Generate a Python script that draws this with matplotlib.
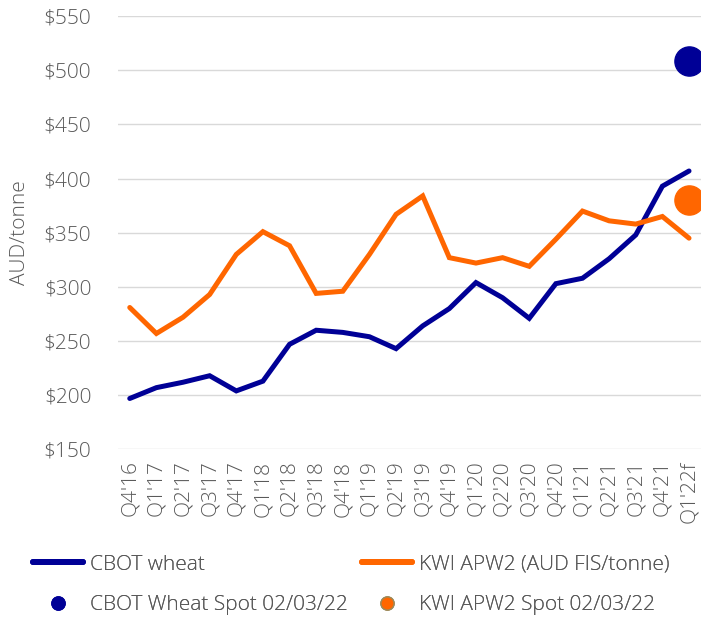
import matplotlib
matplotlib.use("Agg")
import matplotlib.pyplot as plt
from matplotlib.lines import Line2D

quarters = ["Q4'16", "Q1'17", "Q2'17", "Q3'17", "Q4'17", "Q1'18", "Q2'18", "Q3'18",
            "Q4'18", "Q1'19", "Q2'19", "Q3'19", "Q4'19", "Q1'20", "Q2'20", "Q3'20",
            "Q4'20", "Q1'21", "Q2'21", "Q3'21", "Q4'21", "Q1'22f"]
cbot_wheat = [197, 207, 212, 218, 204, 213, 247, 260, 258, 254, 243, 264, 280, 304,
              290, 271, 303, 308, 326, 348, 393, 407]
kwi_apw2 = [281, 257, 272, 293, 330, 351, 338, 294, 296, 330, 367, 384, 327, 322,
            327, 319, 344, 370, 361, 358, 365, 345]
cbot_spot = 509
kwi_spot = 380
yticks = [150, 200, 250, 300, 350, 400, 450, 500, 550]

BLUE = "#000096"
ORANGE = "#FF6600"
GREY = "#595959"
FS = 15
plt.rcParams['font.family'] = ['Open Sans', 'DejaVu Sans']

fig = plt.figure(figsize=(7.01, 6.19), dpi=100)
ax = fig.add_axes([0.168, 0.274, 0.832, 0.700])

x = list(range(len(quarters)))
ax.plot(x, cbot_wheat, color=BLUE, lw=3.6, solid_capstyle='round', solid_joinstyle='miter', zorder=3)
ax.plot(x, kwi_apw2, color=ORANGE, lw=3.6, solid_capstyle='round', solid_joinstyle='miter', zorder=3)
ax.plot([x[-1]], [cbot_spot], 'o', color=BLUE, ms=21, clip_on=False, zorder=4)
ax.plot([x[-1]], [kwi_spot], 'o', color=ORANGE, ms=21, clip_on=False, zorder=4)

ax.set_xlim(-0.45, len(quarters) - 0.55)
ax.set_ylim(150, 550)
ax.set_yticks(yticks)
ax.set_yticklabels([f"${v}" for v in yticks])
ax.set_xticks(x)
ax.set_xticklabels(quarters, rotation=90)
ax.tick_params(axis='both', length=0, labelsize=FS, labelcolor=GREY)
ax.tick_params(axis='y', pad=19)
ax.tick_params(axis='x', pad=8)
for lbl in ax.get_xticklabels() + ax.get_yticklabels():
    lbl.set_fontweight('light')
ax.grid(axis='y', color='#d9d9d9', lw=1.0)
ax.set_axisbelow(True)
for s in ax.spines.values():
    s.set_visible(False)
ax.set_ylabel("AUD/tonne", fontsize=FS, color=GREY, fontweight='light')
ax.yaxis.set_label_coords(-0.15, 0.5)

col1 = [Line2D([], [], color=BLUE, lw=4.3, solid_capstyle='round'),
        Line2D([], [], ls='none', marker='o', color=BLUE, ms=9.5)]
col2 = [Line2D([], [], color=ORANGE, lw=4.3, solid_capstyle='round'),
        Line2D([], [], ls='none', marker='o', markerfacecolor=ORANGE,
               markeredgecolor='#9c8a5a', markeredgewidth=1.0, ms=9.5)]
lab1 = ["CBOT wheat", "CBOT Wheat Spot 02/03/22"]
lab2 = ["KWI APW2 (AUD FIS/tonne)", "KWI APW2 Spot 02/03/22"]
for hs, ls, x0 in [(col1, lab1, 33 / 701), (col2, lab2, 362 / 701)]:
    leg = fig.legend(hs, ls, loc='center left', bbox_to_anchor=(x0, 34 / 619),
                     frameon=False, fontsize=FS, handlelength=2.4, handletextpad=0.34,
                     labelspacing=1.0, borderaxespad=0, borderpad=0)
    for t in leg.get_texts():
        t.set_color(GREY)
        t.set_fontweight('light')
    fig.add_artist(leg)

fig.savefig("out.png", dpi=100)
